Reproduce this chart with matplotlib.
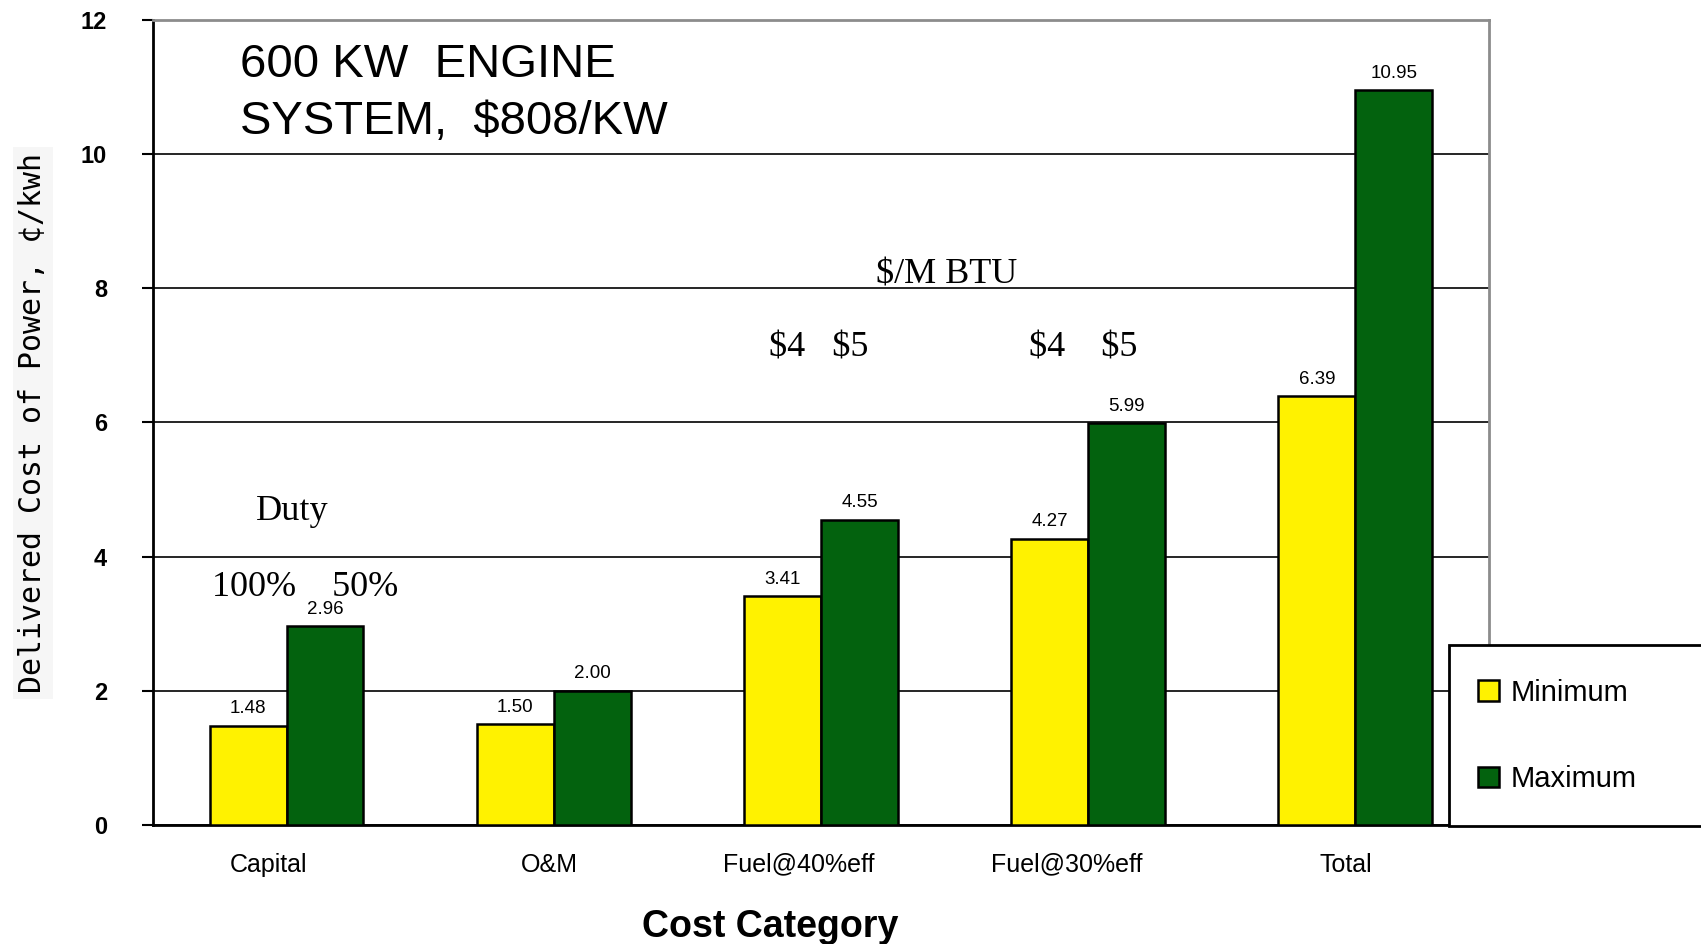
import numpy as np
import matplotlib
matplotlib.use("Agg")
from matplotlib import pyplot as plt
from matplotlib.patches import Rectangle

# Data
categories = ["Capital", "O&M", "Fuel@40%eff", "Fuel@30%eff", "Total"]
minimum = [1.48, 1.50, 3.41, 4.27, 6.39]
maximum = [2.96, 2.00, 4.55, 5.99, 10.95]
series_names = ["Minimum", "Maximum"]

YELLOW = "#FFF200"
GREEN = "#03620E"
SANS = "Liberation Sans"
SERIF = "Liberation Serif"
# category labels sit a little left of their bar pairs in the original
LABEL_SHIFT = [-0.066, -0.015, -0.082, -0.082, -0.036]

fig = plt.figure(figsize=(17.01, 9.44), dpi=100)
ax = fig.add_axes([0.0899, 0.1261, 0.7855, 0.8527])

x = np.arange(len(categories)) + 0.5
w = 0.288
b1 = ax.bar(x - w / 2, minimum, w, color=YELLOW, edgecolor="black", linewidth=1.8, zorder=3, label=series_names[0])
b2 = ax.bar(x + w / 2, maximum, w, color=GREEN, edgecolor="black", linewidth=1.8, zorder=3, label=series_names[1])

# value labels
for bars, vals in ((b1, minimum), (b2, maximum)):
    for r, v in zip(bars, vals):
        ax.annotate("%.2f" % v, (r.get_x() + r.get_width() / 2, v), xytext=(0, 9),
                    textcoords="offset points", ha="center", va="baseline",
                    fontsize=13.5, family=SANS, zorder=4)

ax.set_xlim(0, 5)
ax.set_ylim(0, 12)
ax.set_yticks(range(0, 13, 2))
ax.set_yticklabels([str(t) for t in range(0, 13, 2)], fontsize=17, fontweight="bold", family=SANS)
ax.tick_params(axis="y", direction="out", length=8, width=1.5, pad=25)
ax.set_xticks(x + np.array(LABEL_SHIFT))
ax.set_xticklabels(categories, fontsize=18, family=SANS)
ax.tick_params(axis="x", length=0, pad=20)

ax.yaxis.grid(True, color="black", linewidth=1.2, zorder=1)
ax.set_axisbelow(True)
for s in ("top", "right"):
    ax.spines[s].set_color("#8c8c8c")
    ax.spines[s].set_linewidth(2)
for s in ("left", "bottom"):
    ax.spines[s].set_color("black")
    ax.spines[s].set_linewidth(2)

# annotations
ax.text(0.326, 11.15, "600 KW  ENGINE", fontsize=34, family=SANS, va="baseline", ha="left")
ax.text(0.326, 10.30, "SYSTEM,  \\$808/KW", fontsize=34, family=SANS, va="baseline", ha="left")
ax.text(2.97, 8.07, "\\$/M BTU", fontsize=26, family=SERIF, ha="center", va="baseline")
ax.text(2.49, 6.99, "\\$4   \\$5", fontsize=26, family=SERIF, ha="center", va="baseline")
ax.text(3.48, 6.99, "\\$4    \\$5", fontsize=26, family=SERIF, ha="center", va="baseline")
ax.text(0.52, 4.67, "Duty", fontsize=26, family=SERIF, ha="center", va="center")
ax.text(0.57, 3.42, "100%    50%", fontsize=26, family=SERIF, ha="center", va="baseline")

# axis titles
fig.text(0.453, 0.0074, "Cost Category", fontsize=27, fontweight="bold", family=SANS,
         ha="center", va="baseline")
fig.text(0.0194, 0.552, "Delivered Cost of Power, \u00a2/kwh", fontsize=21.5,
         family="DejaVu Sans Mono", rotation=90, ha="center", va="center",
         bbox=dict(facecolor="#f6f6f6", edgecolor="none", pad=4))

# legend box
fig.patches.append(Rectangle((1449 / 1701, (944 - 826) / 944), 0.2, 181 / 944,
                             transform=fig.transFigure, facecolor="white",
                             edgecolor="black", linewidth=2, zorder=5))
leg = fig.legend(handles=[b1, b2], labels=series_names, loc="center left",
                 bbox_to_anchor=(1452 / 1701, (944 - 736) / 944), frameon=False,
                 handlelength=0.7, handleheight=0.7, handletextpad=0.4,
                 labelspacing=2.0, prop={"family": SANS, "size": 21})
leg.set_zorder(6)

fig.savefig("out.png", dpi=100)
